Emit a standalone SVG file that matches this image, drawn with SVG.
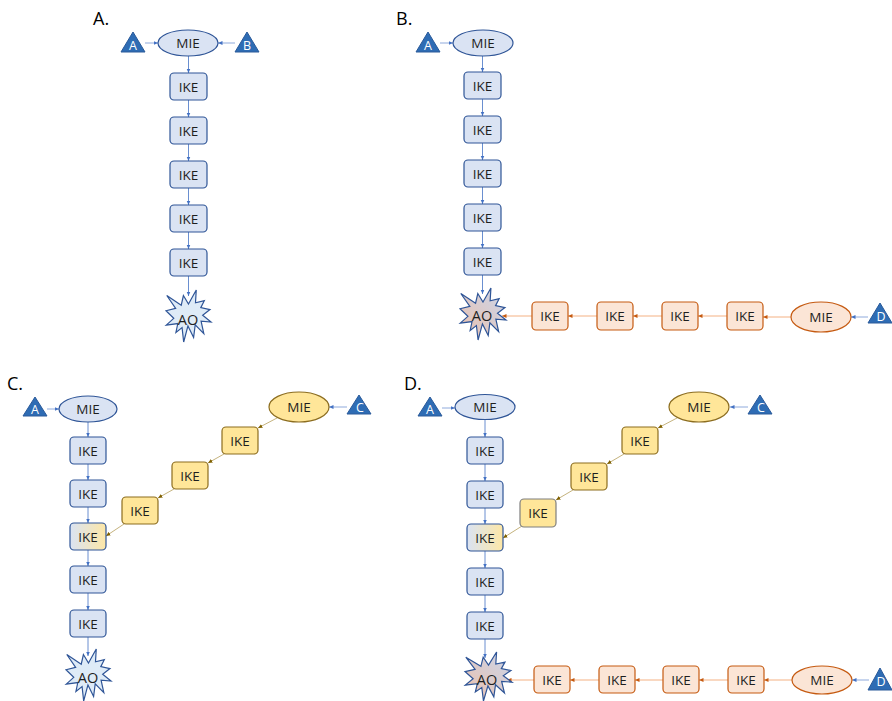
<svg xmlns="http://www.w3.org/2000/svg" xmlns:xlink="http://www.w3.org/1999/xlink" width="892" height="701" viewBox="0 0 892 701">
<style>
text{font-family:"Open Sans","Liberation Sans",sans-serif;text-anchor:middle;dominant-baseline:central;fill:#1e1e1e}
.lbl{font-size:18px;text-anchor:start;fill:#000}
.t{font-size:13.5px}
.ao text{font-size:14.5px}
.tri text{fill:#fff;font-size:12.5px}
.b rect,.b ellipse{fill:#dae3f3;stroke:#2f5597;stroke-width:1.2}
.o rect,.o ellipse{fill:#fbe5d6;stroke:#c55a11;stroke-width:1.2}
.y rect,.y ellipse{fill:#ffe699;stroke:#8c6d1f;stroke-width:1.2}
.tri polygon{fill:#2e6cb4;stroke:#2a5a9a;stroke-width:1}
.ao use{stroke:#2f5597;stroke-width:1.2}
.cb{stroke:#4472c4;stroke-width:0.8;fill:none;marker-end:url(#mb)}
.ct{stroke:#8faadc;stroke-width:1;fill:none;marker-end:url(#mb)}
.co{stroke:#f4b183;stroke-width:1;fill:none;marker-end:url(#mo)}
.cy{stroke:#b59e5c;stroke-width:0.8;fill:none;marker-end:url(#my)}
</style>
<defs>
<marker id="mb" markerUnits="userSpaceOnUse" markerWidth="5" markerHeight="5" refX="4.5" refY="2.5" orient="auto"><path d="M0,0.5 L4.5,2.5 L0,4.5z" fill="#4472c4"/></marker>
<marker id="mo" markerUnits="userSpaceOnUse" markerWidth="5" markerHeight="5" refX="4.5" refY="2.5" orient="auto"><path d="M0,0.5 L4.5,2.5 L0,4.5z" fill="#c55a11"/></marker>
<marker id="my" markerUnits="userSpaceOnUse" markerWidth="5" markerHeight="5" refX="4.5" refY="2.5" orient="auto"><path d="M0,0.5 L4.5,2.5 L0,4.5z" fill="#7f6000"/></marker>
<polygon id="star" vector-effect="non-scaling-stroke" points="50,26.85 67.23,0 65.53,24.65 85.09,20.63 77.32,33.86 97.67,37.67 81.51,48.5 100,61.53 77.95,59.92 84,83.77 64.91,66.93 61.33,91.37 48.76,69.14 39.28,100 35.72,72.35 22.05,81.56 26.24,64.52 0.63,67.53 17.23,54.51 0,39.88 21.42,35.26 1.71,10.63 33.85,29.26 38.67,10.63"/>
<linearGradient id="gao" x1="0" y1="1" x2="1" y2="0"><stop offset="0" stop-color="#ecc0ab"/><stop offset="1" stop-color="#cad6ec"/></linearGradient>
<linearGradient id="gm" x1="0" y1="0" x2="1" y2="0"><stop offset="0" stop-color="#dae3f3"/><stop offset="1" stop-color="#fde7a6"/></linearGradient>
</defs>

<text class="lbl" x="93" y="18">A.</text>
<text class="lbl" x="396" y="18">B.</text>
<text class="lbl" x="7" y="383">C.</text>
<text class="lbl" x="404" y="383">D.</text>

<g id="connectors">
<line class="ct" x1="145" y1="43" x2="158" y2="43"/>
<line class="ct" x1="235" y1="43" x2="218" y2="43"/>
<line class="cb" x1="188.5" y1="56" x2="188.5" y2="73"/>
<line class="cb" x1="188.5" y1="100" x2="188.5" y2="117"/>
<line class="cb" x1="188.5" y1="144" x2="188.5" y2="161"/>
<line class="cb" x1="188.5" y1="188" x2="188.5" y2="205"/>
<line class="cb" x1="188.5" y1="232" x2="188.5" y2="249"/>
<line class="cb" x1="188.5" y1="276" x2="188.5" y2="296"/>
<line class="ct" x1="440" y1="43" x2="453" y2="43"/>
<line class="cb" x1="482.5" y1="56" x2="482.5" y2="72"/>
<line class="cb" x1="482.5" y1="99" x2="482.5" y2="116"/>
<line class="cb" x1="482.5" y1="143" x2="482.5" y2="160"/>
<line class="cb" x1="482.5" y1="187" x2="482.5" y2="204"/>
<line class="cb" x1="482.5" y1="231" x2="482.5" y2="248"/>
<line class="cb" x1="482.5" y1="275" x2="482.5" y2="294"/>
<line class="ct" x1="868" y1="317" x2="851" y2="317"/>
<line class="co" x1="791" y1="317" x2="763" y2="317"/>
<line class="co" x1="727" y1="316" x2="698" y2="316"/>
<line class="co" x1="662" y1="316" x2="633" y2="316"/>
<line class="co" x1="597" y1="316" x2="568" y2="316"/>
<line class="co" x1="532" y1="316" x2="502" y2="316"/>
<line class="ct" x1="47" y1="409" x2="59" y2="409"/>
<line class="cb" x1="88" y1="422" x2="88" y2="437"/>
<line class="cb" x1="88" y1="464" x2="88" y2="480"/>
<line class="cb" x1="88" y1="507" x2="88" y2="523"/>
<line class="cb" x1="88" y1="550" x2="88" y2="566"/>
<line class="cb" x1="88" y1="593" x2="88" y2="610"/>
<line class="cb" x1="88" y1="637" x2="88" y2="656"/>
<line class="ct" x1="347" y1="407" x2="329" y2="407"/>
<line class="cy" x1="277" y1="418" x2="258" y2="428"/>
<line class="cy" x1="224" y1="454" x2="208" y2="463"/>
<line class="cy" x1="174" y1="489" x2="158" y2="498"/>
<line class="cy" x1="124" y1="524" x2="106" y2="536"/>
<line class="ct" x1="442" y1="408" x2="455" y2="408"/>
<line class="cb" x1="485" y1="419" x2="485" y2="437"/>
<line class="cb" x1="485" y1="464" x2="485" y2="481"/>
<line class="cb" x1="485" y1="508" x2="485" y2="524"/>
<line class="cb" x1="485" y1="551" x2="485" y2="568"/>
<line class="cb" x1="485" y1="595" x2="485" y2="612"/>
<line class="cb" x1="485" y1="639" x2="485" y2="658"/>
<line class="ct" x1="748" y1="407" x2="730" y2="407"/>
<line class="cy" x1="677" y1="418" x2="658" y2="428"/>
<line class="cy" x1="624" y1="454" x2="607" y2="464"/>
<line class="cy" x1="573" y1="490" x2="556" y2="500"/>
<line class="cy" x1="522" y1="526" x2="503" y2="538"/>
<line class="ct" x1="869" y1="680" x2="852" y2="680"/>
<line class="co" x1="792" y1="680" x2="764" y2="680"/>
<line class="co" x1="728" y1="680" x2="699" y2="680"/>
<line class="co" x1="663" y1="680" x2="635" y2="680"/>
<line class="co" x1="599" y1="680" x2="570" y2="680"/>
<line class="co" x1="534" y1="680" x2="507" y2="680"/>
</g>

<g id="A_triA" class="tri"><polygon points="133,32 121,52 145,52"/><text x="133" y="45">A</text></g>
<g id="A_triB" class="tri"><polygon points="247,32 235,52 259,52"/><text x="247" y="45">B</text></g>
<g id="A_mie" class="b"><ellipse cx="188" cy="43" rx="30" ry="13"/><text class="t" x="188" y="43">MIE</text></g>
<g id="A_ike1" class="b"><rect x="170" y="73" width="37" height="27" rx="4"/><text class="t" x="188.5" y="86.5">IKE</text></g>
<g id="A_ike2" class="b"><rect x="170" y="117" width="37" height="27" rx="4"/><text class="t" x="188.5" y="130.5">IKE</text></g>
<g id="A_ike3" class="b"><rect x="170" y="161" width="37" height="27" rx="4"/><text class="t" x="188.5" y="174.5">IKE</text></g>
<g id="A_ike4" class="b"><rect x="170" y="205" width="37" height="27" rx="4"/><text class="t" x="188.5" y="218.5">IKE</text></g>
<g id="A_ike5" class="b"><rect x="170" y="249" width="37" height="27" rx="4"/><text class="t" x="188.5" y="262.5">IKE</text></g>
<g id="A_ao" class="ao"><use xlink:href="#star" fill="#deebf7" transform="translate(166,290) scale(0.45,0.52)"/><text x="188" y="319">AO</text></g>

<g id="B_triA" class="tri"><polygon points="428,32 416,52 440,52"/><text x="428" y="45">A</text></g>
<g id="B_mie" class="b"><ellipse cx="483" cy="43" rx="30" ry="13"/><text class="t" x="483" y="43">MIE</text></g>
<g id="B_ike1" class="b"><rect x="464" y="72" width="37" height="27" rx="4"/><text class="t" x="482.5" y="85.5">IKE</text></g>
<g id="B_ike2" class="b"><rect x="464" y="116" width="37" height="27" rx="4"/><text class="t" x="482.5" y="129.5">IKE</text></g>
<g id="B_ike3" class="b"><rect x="464" y="160" width="37" height="27" rx="4"/><text class="t" x="482.5" y="173.5">IKE</text></g>
<g id="B_ike4" class="b"><rect x="464" y="204" width="37" height="27" rx="4"/><text class="t" x="482.5" y="217.5">IKE</text></g>
<g id="B_ike5" class="b"><rect x="464" y="248" width="37" height="27" rx="4"/><text class="t" x="482.5" y="261.5">IKE</text></g>
<g id="B_ao" class="ao"><use xlink:href="#star" fill="url(#gao)" transform="translate(460,288) scale(0.46,0.52)"/><text x="482" y="315">AO</text></g>
<g id="B_oike1" class="o"><rect x="532" y="302" width="36" height="28" rx="4"/><text class="t" x="550" y="316">IKE</text></g>
<g id="B_oike2" class="o"><rect x="597" y="302" width="36" height="28" rx="4"/><text class="t" x="615" y="316">IKE</text></g>
<g id="B_oike3" class="o"><rect x="662" y="302" width="36" height="28" rx="4"/><text class="t" x="680" y="316">IKE</text></g>
<g id="B_oike4" class="o"><rect x="727" y="302" width="36" height="28" rx="4"/><text class="t" x="745" y="316">IKE</text></g>
<g id="B_omie" class="o"><ellipse cx="821" cy="317" rx="30" ry="15"/><text class="t" x="821" y="317">MIE</text></g>
<g id="B_triD" class="tri"><polygon points="880,303 868,323 892,323"/><text x="881" y="316">D</text></g>

<g id="C_triA" class="tri"><polygon points="35,397 23,416 47,416"/><text x="35" y="409">A</text></g>
<g id="C_mie" class="b"><ellipse cx="88" cy="409" rx="29" ry="13"/><text class="t" x="88" y="409">MIE</text></g>
<g id="C_ike1" class="b"><rect x="70" y="437" width="36" height="27" rx="4"/><text class="t" x="88" y="450.5">IKE</text></g>
<g id="C_ike2" class="b"><rect x="70" y="480" width="36" height="27" rx="4"/><text class="t" x="88" y="493.5">IKE</text></g>
<g id="C_ike3" class="b"><rect x="70" y="523" width="36" height="27" rx="4" style="fill:url(#gm)"/><text class="t" x="88" y="536.5">IKE</text></g>
<g id="C_ike4" class="b"><rect x="70" y="566" width="36" height="27" rx="4"/><text class="t" x="88" y="579.5">IKE</text></g>
<g id="C_ike5" class="b"><rect x="70" y="610" width="36" height="27" rx="4"/><text class="t" x="88" y="623.5">IKE</text></g>
<g id="C_ao" class="ao"><use xlink:href="#star" fill="#deebf7" transform="translate(66,649) scale(0.45,0.52)"/><text x="88" y="677">AO</text></g>
<g id="C_ymie" class="y"><ellipse cx="299" cy="407" rx="30" ry="15"/><text class="t" x="299" y="407">MIE</text></g>
<g id="C_triC" class="tri"><polygon points="359,395 347,414 371,414"/><text x="360" y="407">C</text></g>
<g id="C_yike1" class="y"><rect x="222" y="427" width="36" height="27" rx="4"/><text class="t" x="240" y="440.5">IKE</text></g>
<g id="C_yike2" class="y"><rect x="172" y="462" width="36" height="27" rx="4"/><text class="t" x="190" y="475.5">IKE</text></g>
<g id="C_yike3" class="y"><rect x="122" y="497" width="36" height="27" rx="4"/><text class="t" x="140" y="510.5">IKE</text></g>

<g id="D_triA" class="tri"><polygon points="430,397 418,416 442,416"/><text x="430" y="409">A</text></g>
<g id="D_mie" class="b"><ellipse cx="485" cy="407" rx="30" ry="12.5"/><text class="t" x="485" y="407">MIE</text></g>
<g id="D_ike1" class="b"><rect x="467" y="437" width="36" height="27" rx="4"/><text class="t" x="485" y="450.5">IKE</text></g>
<g id="D_ike2" class="b"><rect x="467" y="481" width="36" height="27" rx="4"/><text class="t" x="485" y="494.5">IKE</text></g>
<g id="D_ike3" class="b"><rect x="467" y="524" width="36" height="27" rx="4" style="fill:url(#gm)"/><text class="t" x="485" y="537.5">IKE</text></g>
<g id="D_ike4" class="b"><rect x="467" y="568" width="36" height="27" rx="4"/><text class="t" x="485" y="581.5">IKE</text></g>
<g id="D_ike5" class="b"><rect x="467" y="612" width="36" height="27" rx="4"/><text class="t" x="485" y="625.5">IKE</text></g>
<g id="D_ao" class="ao"><use xlink:href="#star" fill="url(#gao)" transform="translate(465,652) scale(0.47,0.49)"/><text x="487" y="679">AO</text></g>
<g id="D_ymie" class="y"><ellipse cx="699" cy="407" rx="30" ry="15"/><text class="t" x="699" y="407">MIE</text></g>
<g id="D_triC" class="tri"><polygon points="760,395 748,414 772,414"/><text x="761" y="407">C</text></g>
<g id="D_yike1" class="y"><rect x="622" y="427" width="36" height="27" rx="4"/><text class="t" x="640" y="440.5">IKE</text></g>
<g id="D_yike2" class="y"><rect x="571" y="463" width="36" height="27" rx="4"/><text class="t" x="589" y="476.5">IKE</text></g>
<g id="D_yike3" class="y"><rect x="520" y="499" width="36" height="28" rx="4" style="stroke:#7f7f7f"/><text class="t" x="538" y="513">IKE</text></g>
<g id="D_oike1" class="o"><rect x="534" y="666" width="36" height="27" rx="4"/><text class="t" x="552" y="679.5">IKE</text></g>
<g id="D_oike2" class="o"><rect x="599" y="666" width="36" height="27" rx="4"/><text class="t" x="617" y="679.5">IKE</text></g>
<g id="D_oike3" class="o"><rect x="663" y="666" width="36" height="27" rx="4"/><text class="t" x="681" y="679.5">IKE</text></g>
<g id="D_oike4" class="o"><rect x="728" y="666" width="36" height="27" rx="4"/><text class="t" x="746" y="679.5">IKE</text></g>
<g id="D_omie" class="o"><ellipse cx="822" cy="680" rx="30" ry="14"/><text class="t" x="822" y="680">MIE</text></g>
<g id="D_triD" class="tri"><polygon points="880,668 868,690 892,690"/><text x="881" y="681">D</text></g>
</svg>
